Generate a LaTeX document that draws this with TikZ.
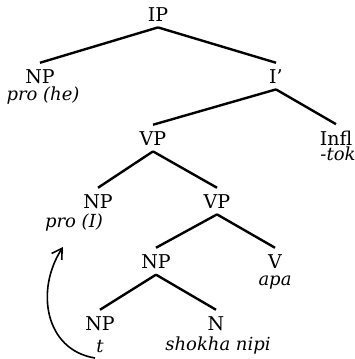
\documentclass[tikz,border=0pt]{standalone}
\usepackage{fontspec}
\setmainfont{DejaVu Serif}
\usetikzlibrary{arrows.meta}
\begin{document}
\begin{tikzpicture}[x=0.5pt,y=-0.5pt,
  cat/.style={inner sep=3pt,anchor=base,font=\fontsize{9.5}{11}\selectfont},
  word/.style={inner sep=1pt,anchor=base,font=\fontsize{9}{11}\selectfont\itshape},
  branch/.style={line width=1.2pt},
  move/.style={line width=0.8pt,-{Straight Barb[length=5pt,width=6pt]}}]
\useasboundingbox (0,0) rectangle (354,359);
\node[cat] (ip) at (158,21) {IP};
\node[cat] (np1) at (40,83) {NP};
\node[word] (prohe) at (43,100) {pro (he)};
\node[cat] (ibar) at (276,83) {I'};
\node[cat] (vp1) at (153,145) {VP};
\node[cat] (infl) at (336,145) {Infl};
\node[word] (tok) at (338,160) {-tok};
\node[cat] (np2) at (98,208) {NP};
\node[word] (proi) at (74,227) {pro (I)};
\node[cat] (vp2) at (217,208) {VP};
\node[cat] (np3) at (156,268) {NP};
\node[cat] (v) at (275,268) {V};
\node[word] (apa) at (275,285) {apa};
\node[cat] (np4) at (100,330) {NP};
\node[word] (t) at (100,352) {t};
\node[cat] (n) at (216,330) {N};
\node[word] (shokha) at (218,350) {shokha nipi};
\draw[branch] (ip.south) -- (np1.north);
\draw[branch] (ip.south) -- (ibar.north);
\draw[branch] (ibar.south) -- (vp1.north);
\draw[branch] (ibar.south) -- (infl.north);
\draw[branch] (vp1.south) -- (np2.north);
\draw[branch] (vp1.south) -- (vp2.north);
\draw[branch] (vp2.south) -- (np3.north);
\draw[branch] (vp2.south) -- (v.north);
\draw[branch] (np3.south) -- (np4.north);
\draw[branch] (np3.south) -- (n.north);
\coordinate (tail) at (95,358);
\coordinate (tip) at (63,247);
\draw[move] (tail) .. controls (45,350) and (35,290) .. (tip);
\end{tikzpicture}
\end{document}
